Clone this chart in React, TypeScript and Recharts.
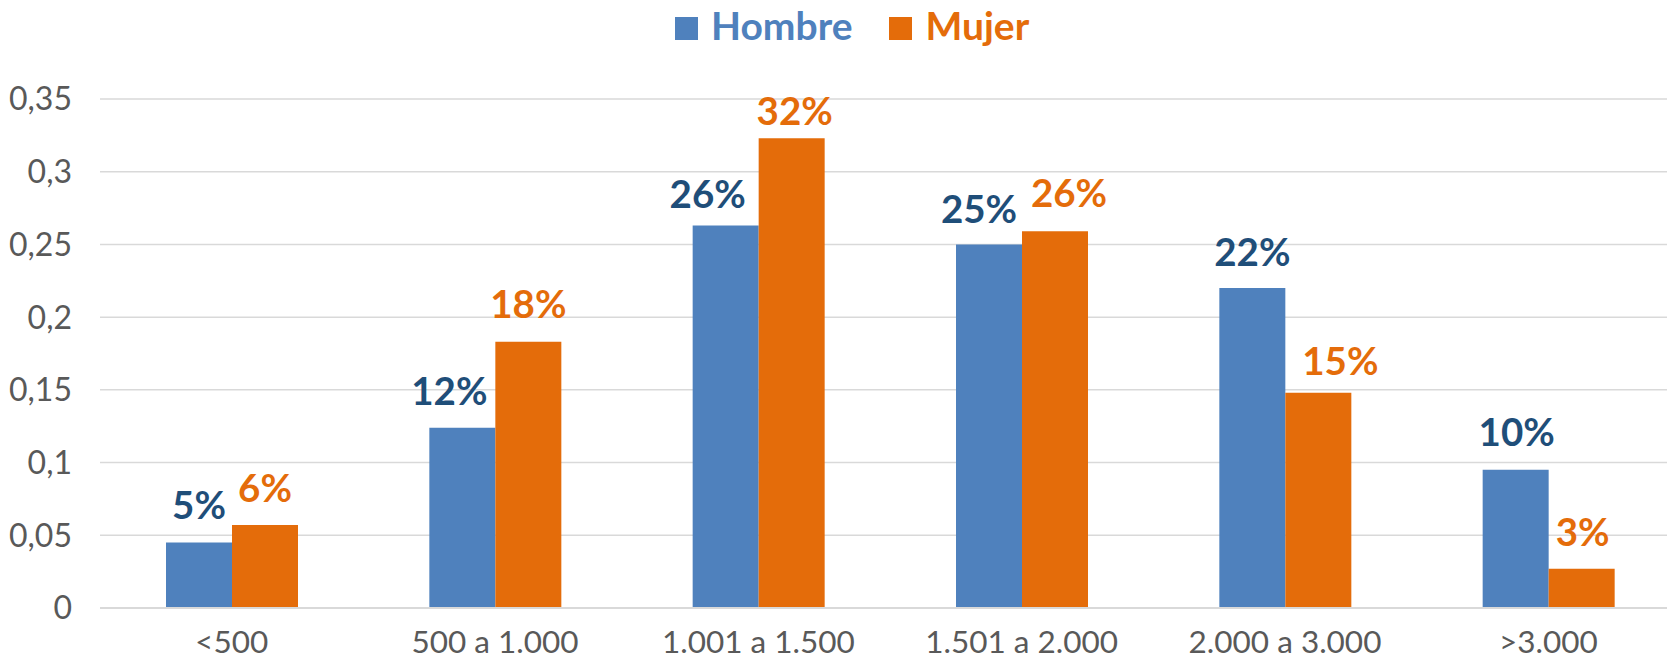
import React from "react";
import {
  BarChart,
  Bar,
  XAxis,
  YAxis,
  CartesianGrid,
  LabelList,
} from "recharts";

const categories = [
  "<500",
  "500 a 1.000",
  "1.001 a 1.500",
  "1.501 a 2.000",
  "2.000 a 3.000",
  ">3.000",
];
const hombre = [0.045, 0.124, 0.263, 0.25, 0.22, 0.095];
const mujer = [0.057, 0.183, 0.323, 0.259, 0.148, 0.027];
const yTicks = [0, 0.05, 0.1, 0.15, 0.2, 0.25, 0.3, 0.35];

// hand-placed label nudges (as in the original sheet), [dx, dy] in px
const hombreNudge = [[0, 0], [-13, 1], [-18, 6], [-10, 3], [0, 2], [1, 0]];
const mujerNudge = [[0, 1], [0, 0], [3, 11], [14, 0], [22, 6], [1, 1]];

const seriesInfo = [
  { key: "Hombre", values: hombre, nudge: hombreNudge, color: "#4F81BD", labelColor: "#1F4E79" },
  { key: "Mujer", values: mujer, nudge: mujerNudge, color: "#E46C0A", labelColor: "#E46C0A" },
];

const data = categories.map((name, i) => ({
  name,
  Hombre: hombre[i],
  Mujer: mujer[i],
}));

const pct = (v: any) => `${Math.round(Number(v) * 100)}%`;

const makeLabel = (s: (typeof seriesInfo)[number]) => (props: any) => {
  const { x, y, width, value } = props;
  let idx = props.index;
  if (idx === undefined || idx === null) idx = s.values.indexOf(Number(value));
  const [dx, dy] = s.nudge[idx] || [0, 0];
  return (
    <text
      x={Number(x) + Number(width) / 2 + dx}
      y={Number(y) - 24 + dy}
      textAnchor="middle"
      fill={s.labelColor}
      fontSize={38.5}
      fontWeight="bold"
    >
      {pct(value)}
    </text>
  );
};

const App: React.FC = () => {
  return (
    <div
      style={{
        position: "absolute",
        left: 0,
        top: 0,
        width: 1667,
        height: 660,
        overflow: "hidden",
        background: "#fff",
        fontFamily: "Lato, 'Open Sans', sans-serif",
      }}
    >
      {/* legend */}
      <div
        style={{
          position: "absolute",
          left: 675,
          top: 5,
          height: 40,
          display: "flex",
          alignItems: "flex-start",
          zIndex: 2,
        }}
      >
        {seriesInfo.map((s, i) => (
          <div
            key={s.key}
            style={{
              display: "flex",
              alignItems: "flex-start",
              marginRight: i === 0 ? 37 : 0,
            }}
          >
            <div
              style={{
                width: 23,
                height: 23,
                background: s.color,
                marginTop: 12,
                marginRight: 13,
              }}
            />
            <span
              style={{
                color: s.color,
                fontWeight: "bold",
                fontSize: 39,
                lineHeight: "40px",
              }}
            >
              {s.key}
            </span>
          </div>
        ))}
      </div>

      <BarChart
        width={1680}
        height={660}
        data={data}
        margin={{ top: 99, right: 0, bottom: 0, left: 0 }}
        barGap={0}
        barSize={66}
      >
        <CartesianGrid vertical={false} stroke="#d9d9d9" strokeWidth={1.5} />
        <XAxis
          dataKey="name"
          interval={0}
          height={52}
          tickLine={false}
          axisLine={{ stroke: "#d9d9d9", strokeWidth: 2 }}
          tickMargin={17}
          tick={{ fill: "#595959", fontSize: 31.5 }}
        />
        <YAxis
          domain={[0, 0.35]}
          ticks={yTicks}
          width={100}
          axisLine={false}
          tickLine={false}
          tickMargin={22}
          tick={{ fill: "#595959", fontSize: 32 }}
          tickFormatter={(v: number) => String(v).replace(".", ",")}
        />
        {seriesInfo.map((s) => (
          <Bar
            key={s.key}
            dataKey={s.key}
            fill={s.color}
            isAnimationActive={false}
          >
            <LabelList dataKey={s.key} content={makeLabel(s)} />
          </Bar>
        ))}
      </BarChart>
    </div>
  );
};

export default App;
